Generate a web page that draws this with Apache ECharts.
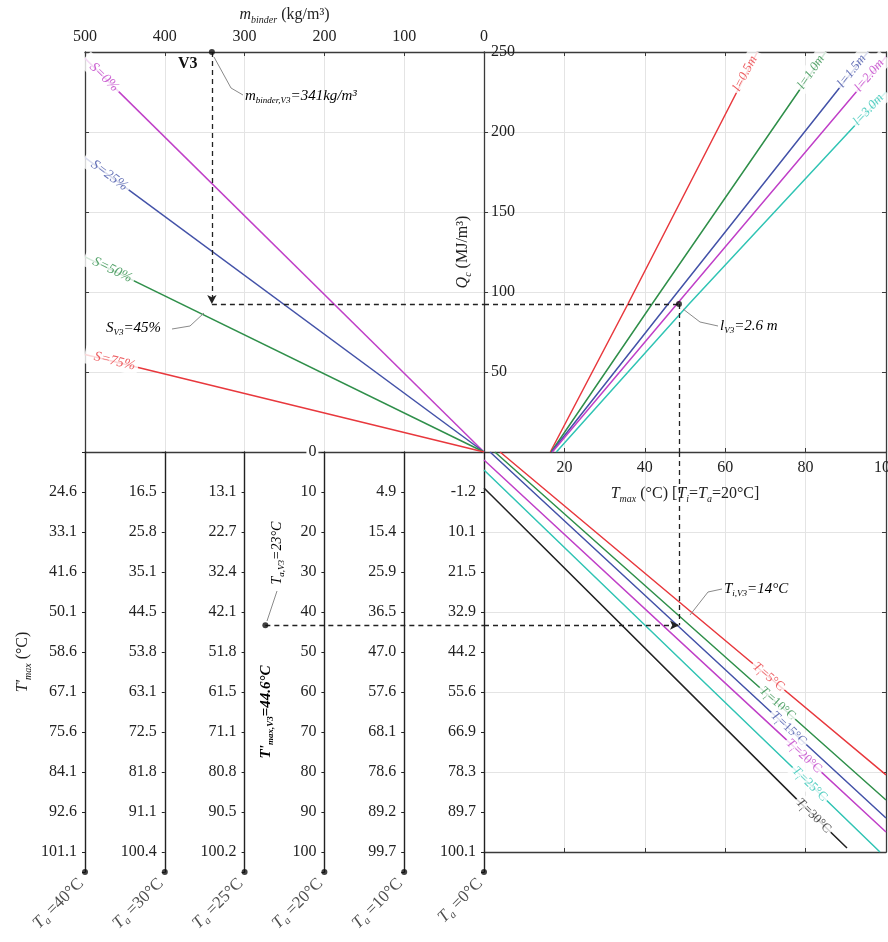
<!DOCTYPE html>
<html><head><meta charset="utf-8">
<script src="https://cdn.jsdelivr.net/npm/echarts@6/dist/echarts.min.js"></script>
<style>html,body{margin:0;padding:0;background:#fff}#c{width:888px;height:942px}</style>
</head><body><div id="c"></div>
<script>
// ================= DATA =================
// top-left: m_binder (kg/m3) vs Q_c (MJ/m3) for saturation S
const sLabels = ['S=0%', 'S=25%', 'S=50%', 'S=75%'];
const sQat500 = [246, 184, 122, 61];          // Q at m = 500, lines go to origin
// top-right: T_max vs Q_c for length l
const lLabels = ['l=0.5m', 'l=1.0m', 'l=1.5m', 'l=2.0m', 'l=3.0m'];
const lStart = [[16.5, 0], [16.7, 0], [16.8, 0], [17, 0], [18, 0]];
const lMid = [[35.8, 92.5], [41.8, 92.5], [45.8, 92.5], [48, 92.5], [51, 92.5]];
const lEnd = [[68, 250], [85, 250], [95.5, 250], [100, 247], [100, 225]];
// bottom-right: T_max vs T'_max for T_i
const tiValues = [5, 10, 15, 20, 25, 30];
const tiStart = [[4, 0], [2.7, 0], [1.5, 0], [0, 2], [0, 4.5], [0, 9]];
const tiMid = [[67, 53], [68.7, 59], [71.6, 65.2], [75.4, 72.1], [76.9, 79], [77.9, 86.9]];
const tiEnd = [[100, 80.7], [100, 87], [100, 91.5], [100, 95], [98.5, 100], [90.3, 99]];
// bottom-left: T'_max scales for ambient temperature T_a
const taValues = [40, 30, 25, 20, 10, 0];
const taSlots = [500, 400, 300, 200, 100, 0];
const ta40 = ['24.6', '33.1', '41.6', '50.1', '58.6', '67.1', '75.6', '84.1', '92.6', '101.1'];
const ta30 = ['16.5', '25.8', '35.1', '44.5', '53.8', '63.1', '72.5', '81.8', '91.1', '100.4'];
const ta25 = ['13.1', '22.7', '32.4', '42.1', '51.8', '61.5', '71.1', '80.8', '90.5', '100.2'];
const ta20 = ['10', '20', '30', '40', '50', '60', '70', '80', '90', '100'];
const ta10 = ['4.9', '15.4', '25.9', '36.5', '47.0', '57.6', '68.1', '78.6', '89.2', '99.7'];
const ta0 = ['-1.2', '10.1', '21.5', '32.9', '44.2', '55.6', '66.9', '78.3', '89.7', '100.1'];
const taTickLabels = [ta40, ta30, ta25, ta20, ta10, ta0];
// V3 worked example
const v3M = 341, v3Q = 92.5, v3Tmax = 48.5, v3Tp = 43.3, v3TaSlot = 274;

// ================= STYLE =================
const SERIF = '"Liberation Serif","DejaVu Serif","Times New Roman",serif';
const AX = '#3a3a3a';
const GC = '#e4e4e4';
const RED = '#e8383d', GREEN = '#2f8f4a', BLUE = '#4352a8', PURPLE = '#c040c8', CYAN = '#30c4b4', BLACK = '#222';
const sColors = [PURPLE, BLUE, GREEN, RED];
const lColors = [RED, GREEN, BLUE, PURPLE, CYAN];
const tiColors = [RED, GREEN, BLUE, PURPLE, CYAN, BLACK];
const sRot = [-44.5, -36.4, -26, -13.7];
const lRot = [62, 55.6, 51.7, 49.8, 47];
const tiRot = [-40, -41.8, -43, -43, -44, -44.6];

function R(fs, color, bold) {
  const w = bold ? 'bold' : 'normal';
  return {
    n: { fontSize: fs, lineHeight: fs + 4, color: color, fontFamily: SERIF, fontWeight: w },
    i: { fontSize: fs, lineHeight: fs + 4, color: color, fontFamily: SERIF, fontStyle: 'italic', fontWeight: w },
    s: { fontSize: Math.round(fs * 0.62), lineHeight: Math.round(fs * 0.62), color: color, fontFamily: SERIF, fontStyle: 'italic', fontWeight: w, verticalAlign: 'bottom' }
  };
}
const line = { show: true, onZero: false, lineStyle: { color: AX, width: 1.3 } };
const noLine = { show: false, onZero: false };
const tickIn = { show: true, inside: true, length: 4, lineStyle: { color: AX, width: 1 } };
const split = { show: true, lineStyle: { color: GC, width: 1 } };
const lab = (o) => Object.assign({ fontFamily: SERIF, fontSize: 16, color: '#222' }, o || {});

const grids = [
  { left: 85, top: 52, width: 399, height: 400, outerBoundsMode: 'none', containLabel: false },   // A
  { left: 484, top: 52, width: 402, height: 400, outerBoundsMode: 'none', containLabel: false },  // B
  { left: 484, top: 452, width: 402, height: 400, outerBoundsMode: 'none', containLabel: false }, // C
  { left: 85, top: 452, width: 399, height: 420, outerBoundsMode: 'none', containLabel: false }   // D
];

const xAxes = [
  { gridIndex: 0, type: 'value', position: 'top', min: 0, max: 500, interval: 100, inverse: true,
    axisLine: line, axisTick: tickIn, splitLine: split,
    axisLabel: lab({ margin: 7, showMinLabel: true, showMaxLabel: true }),
    name: '{i|m}{s|binder}{n| (kg/m³)}', nameLocation: 'middle', nameGap: 27,
    nameTextStyle: { rich: R(16, '#222') } },
  { gridIndex: 1, type: 'value', position: 'bottom', min: 0, max: 100, interval: 20,
    axisLine: line, axisTick: tickIn, splitLine: split,
    axisLabel: lab({ margin: 8, showMinLabel: false, showMaxLabel: true }),
    name: '{i|T}{s|max}{n| (°C) [}{i|T}{s|i}{n|=}{i|T}{s|a}{n|=20°C]}', nameLocation: 'middle', nameGap: 32,
    nameTextStyle: { rich: R(16, '#222') } },
  { gridIndex: 1, type: 'value', position: 'top', min: 0, max: 100, interval: 20,
    axisLine: line, axisTick: tickIn, axisLabel: { show: false }, splitLine: { show: false } },
  { gridIndex: 2, type: 'value', position: 'bottom', min: 0, max: 100, interval: 20,
    axisLine: line, axisTick: tickIn, axisLabel: { show: false }, splitLine: split },
  { gridIndex: 3, type: 'value', min: 0, max: 500, inverse: true, show: false, axisLine: noLine },
  { gridIndex: 0, type: 'value', position: 'bottom', min: 0, max: 500, inverse: true,
    axisLine: line, axisTick: { show: false }, axisLabel: { show: false }, splitLine: { show: false } }
];

const yAxes = [
  { gridIndex: 0, type: 'value', position: 'left', min: 0, max: 250, interval: 50,
    axisLine: line, axisTick: tickIn, axisLabel: { show: false }, splitLine: split },
  { gridIndex: 1, type: 'value', position: 'left', min: 0, max: 250, interval: 50,
    axisLine: line, axisTick: tickIn, splitLine: split,
    axisLabel: lab({ inside: true, margin: 7, showMinLabel: false, showMaxLabel: true }),
    name: '{i|Q}{s|c}{n| (MJ/m³)}', nameLocation: 'middle', nameGap: 11, nameRotate: 90,
    nameTextStyle: { rich: R(16, '#222') } },
  { gridIndex: 1, type: 'value', position: 'right', min: 0, max: 250, interval: 50,
    axisLine: line, axisTick: tickIn, axisLabel: { show: false }, splitLine: { show: false } },
  { gridIndex: 2, type: 'value', position: 'left', min: 0, max: 100, interval: 20, inverse: true,
    axisLine: noLine, axisTick: { show: false }, axisLabel: { show: false }, splitLine: split },
  { gridIndex: 2, type: 'value', position: 'right', min: 0, max: 100, interval: 20, inverse: true,
    axisLine: line, axisTick: tickIn, axisLabel: { show: false }, splitLine: { show: false } }
];
const TA_AXIS0 = yAxes.length;
taValues.forEach((ta, k) => {
  const labels = taTickLabels[k];
  const isLinear = ta === 20;
  yAxes.push({
    gridIndex: 3, type: 'value', position: 'left', min: 0, max: 105, interval: 10, inverse: true,
    offset: -(500 - taSlots[k]) * 399 / 500,
    z: isLinear ? 6 : 2,
    axisLine: { show: true, onZero: false, lineStyle: { color: '#222', width: 1.4 } },
    axisTick: { show: true, length: 3, lineStyle: { color: '#222' } },
    splitLine: { show: false },
    axisLabel: lab({ margin: 6, showMinLabel: true, showMaxLabel: true,
      backgroundColor: isLinear ? '#fff' : 'transparent', padding: [0, 2],
      formatter: (v) => {
        if (v === 0) return isLinear ? '0' : '';
        if (v > 0 && v <= 100 && Math.abs(v % 10) < 1e-6) return labels[Math.round(v / 10) - 1];
        return '';
      } }),
    name: k === 0 ? "{i|T'}{s|max}{n| (°C)}" : '', nameLocation: 'middle', nameGap: 52, nameRotate: 90,
    nameTextStyle: { rich: R(16, '#222') }
  });
});

const series = [];
// top-left S lines
sLabels.forEach((t, i) => {
  series.push({ type: 'line', name: t, xAxisIndex: 0, yAxisIndex: 0, symbol: 'none', z: 3,
    lineStyle: { color: sColors[i], width: 1.5 }, data: [[500, sQat500[i]], [0, 0]] });
});
series.push({ type: 'scatter', xAxisIndex: 0, yAxisIndex: 0, symbolSize: 1, clip: false, z: 6, silent: true,
  itemStyle: { color: 'rgba(0,0,0,0)' },
  data: sLabels.map((t, i) => ({ value: [500, sQat500[i]],
    label: { show: true, position: [0, 0], align: 'left', verticalAlign: 'middle', rotate: sRot[i],
      formatter: '{i|' + t + '}', rich: R(14, sColors[i]), backgroundColor: '#fff', padding: [0, 3, 0, 10] } })) });
// top-right l lines
lLabels.forEach((t, i) => {
  series.push({ type: 'line', name: t, xAxisIndex: 1, yAxisIndex: 1, symbol: 'none', z: 3,
    lineStyle: { color: lColors[i], width: 1.5 }, data: [lStart[i], lMid[i], lEnd[i]] });
});
series.push({ type: 'scatter', xAxisIndex: 1, yAxisIndex: 1, symbolSize: 1, clip: false, z: 6, silent: true,
  itemStyle: { color: 'rgba(0,0,0,0)' },
  data: lLabels.map((t, i) => ({ value: lEnd[i],
    label: { show: true, position: [0, 0], align: 'right', verticalAlign: 'middle', rotate: lRot[i],
      formatter: '{i|' + t + '}', rich: R(13, lColors[i]), backgroundColor: '#fff', padding: [0, 6, 0, 2] } })) });
// bottom-right T_i lines
tiValues.forEach((v, i) => {
  series.push({ type: 'line', name: 'Ti=' + v, xAxisIndex: 3, yAxisIndex: 3, symbol: 'none', z: 3,
    lineStyle: { color: tiColors[i], width: 1.5 }, data: [tiStart[i], tiMid[i], tiEnd[i]] });
});
series.push({ type: 'scatter', xAxisIndex: 3, yAxisIndex: 3, symbolSize: 1, clip: false, z: 6, silent: true,
  itemStyle: { color: 'rgba(0,0,0,0)' },
  data: tiValues.map((v, i) => ({ value: tiMid[i],
    label: { show: true, position: [0, 0], align: 'left', verticalAlign: 'middle', rotate: tiRot[i],
      formatter: '{i|T}{s|i}{n|=' + v + '°C}', rich: R(13, tiColors[i]), backgroundColor: '#fff', padding: [0, 2] } })) });
// bottom-left axis end dots + T_a labels
series.push({ type: 'scatter', xAxisIndex: 4, yAxisIndex: TA_AXIS0, symbol: 'circle', symbolSize: 6, clip: false, z: 6,
  itemStyle: { color: '#111' },
  data: taValues.map((ta, k) => ({ value: [taSlots[k], 105],
    label: { show: true, position: [-1, 12], align: 'right', verticalAlign: 'middle', rotate: 45,
      formatter: '{i|T}{s|a}{n| =' + ta + '°C}', rich: R(17, '#222') } })) });

// V3 worked-example path
const dash = { type: [5, 4], color: '#222', width: 1.3 };
function ml(pairs) {
  return { silent: true, animation: false, symbolSize: [7, 9], lineStyle: dash, label: { show: false },
    emphasis: { disabled: true }, data: pairs };
}
series.push({ type: 'scatter', xAxisIndex: 0, yAxisIndex: 0, clip: false, symbolSize: 6, itemStyle: { color: '#111' }, z: 7,
  data: [[v3M, 250]],
  markLine: ml([
    [{ coord: [v3M, 250], symbol: 'none' }, { coord: [v3M, v3Q], symbol: 'arrow' }],
    [{ coord: [v3M, v3Q], symbol: 'none' }, { coord: [0, v3Q], symbol: 'none' }]
  ]) });
series.push({ type: 'scatter', xAxisIndex: 1, yAxisIndex: 1, clip: false, symbolSize: 6, itemStyle: { color: '#111' }, z: 7,
  data: [[v3Tmax, v3Q]],
  markLine: ml([
    [{ coord: [0, v3Q], symbol: 'none' }, { coord: [v3Tmax, v3Q], symbol: 'none' }],
    [{ coord: [v3Tmax, v3Q], symbol: 'none' }, { coord: [v3Tmax, 0], symbol: 'none' }]
  ]) });
series.push({ type: 'scatter', xAxisIndex: 3, yAxisIndex: 3, clip: false, symbolSize: 0, z: 7,
  data: [[v3Tmax, v3Tp]],
  markLine: ml([
    [{ coord: [v3Tmax, 0], symbol: 'none' }, { coord: [v3Tmax, v3Tp], symbol: 'none' }],
    [{ coord: [0, v3Tp], symbol: 'none' }, { coord: [v3Tmax, v3Tp], symbol: 'arrow' }]
  ]) });
series.push({ type: 'scatter', xAxisIndex: 4, yAxisIndex: TA_AXIS0, clip: false, symbolSize: 6, itemStyle: { color: '#111' }, z: 7,
  data: [[v3TaSlot, v3Tp]],
  markLine: ml([
    [{ coord: [v3TaSlot, v3Tp], symbol: 'none' }, { coord: [0, v3Tp], symbol: 'none' }]
  ]) });

// annotation texts
const LEAD = { stroke: '#8a8a8a', lineWidth: 1, fill: null };
const graphic = [
  { type: 'text', x: 178, y: 64, z: 100, style: { text: 'V3', font: 'bold 16px ' + SERIF, fill: '#111', verticalAlign: 'middle' } },
  { type: 'polyline', z: 100, shape: { points: [[214, 57], [231, 88], [243, 95]] }, style: LEAD },
  { type: 'text', x: 245, y: 96, z: 100, style: { text: '{i|m}{s|binder,V3}{i|=341kg/m³}', rich: R(15, '#222'), verticalAlign: 'middle' } },
  { type: 'polyline', z: 100, shape: { points: [[172, 329], [190, 326], [204, 313]] }, style: LEAD },
  { type: 'text', x: 106, y: 328, z: 100, style: { text: '{i|S}{s|V3}{i|=45%}', rich: R(15, '#222'), verticalAlign: 'middle' } },
  { type: 'polyline', z: 100, shape: { points: [[683, 309], [700, 322], [718, 326]] }, style: LEAD },
  { type: 'text', x: 720, y: 326, z: 100, style: { text: '{i|l}{s|V3}{i|=2.6 m}', rich: R(15, '#222'), verticalAlign: 'middle' } },
  { type: 'polyline', z: 100, shape: { points: [[690, 615], [708, 592], [722, 589]] }, style: LEAD },
  { type: 'text', x: 724, y: 589, z: 100, style: { text: '{i|T}{s|i,V3}{i|=14°C}', rich: R(15, '#222'), verticalAlign: 'middle' } },
  { type: 'polyline', z: 100, shape: { points: [[267, 621], [277, 591]] }, style: LEAD },
  { type: 'text', x: 277, y: 553, z: 100, rotation: Math.PI / 2,
    style: { text: '{i|T}{s|a,V3}{i|=23°C}', rich: R(14, '#222'), align: 'center', verticalAlign: 'middle' } },
  { type: 'text', x: 266, y: 712, z: 100, rotation: Math.PI / 2,
    style: { text: "{i|T'}{s|max,V3}{i|=44.6°C}", rich: R(15, '#111', true), align: 'center', verticalAlign: 'middle' } }
];

const chart = echarts.init(document.getElementById('c'), null, { renderer: 'canvas' });
chart.setOption({
  backgroundColor: '#fff',
  animation: false,
  grid: grids,
  xAxis: xAxes,
  yAxis: yAxes,
  series: series,
  graphic: graphic
});
</script></body></html>
